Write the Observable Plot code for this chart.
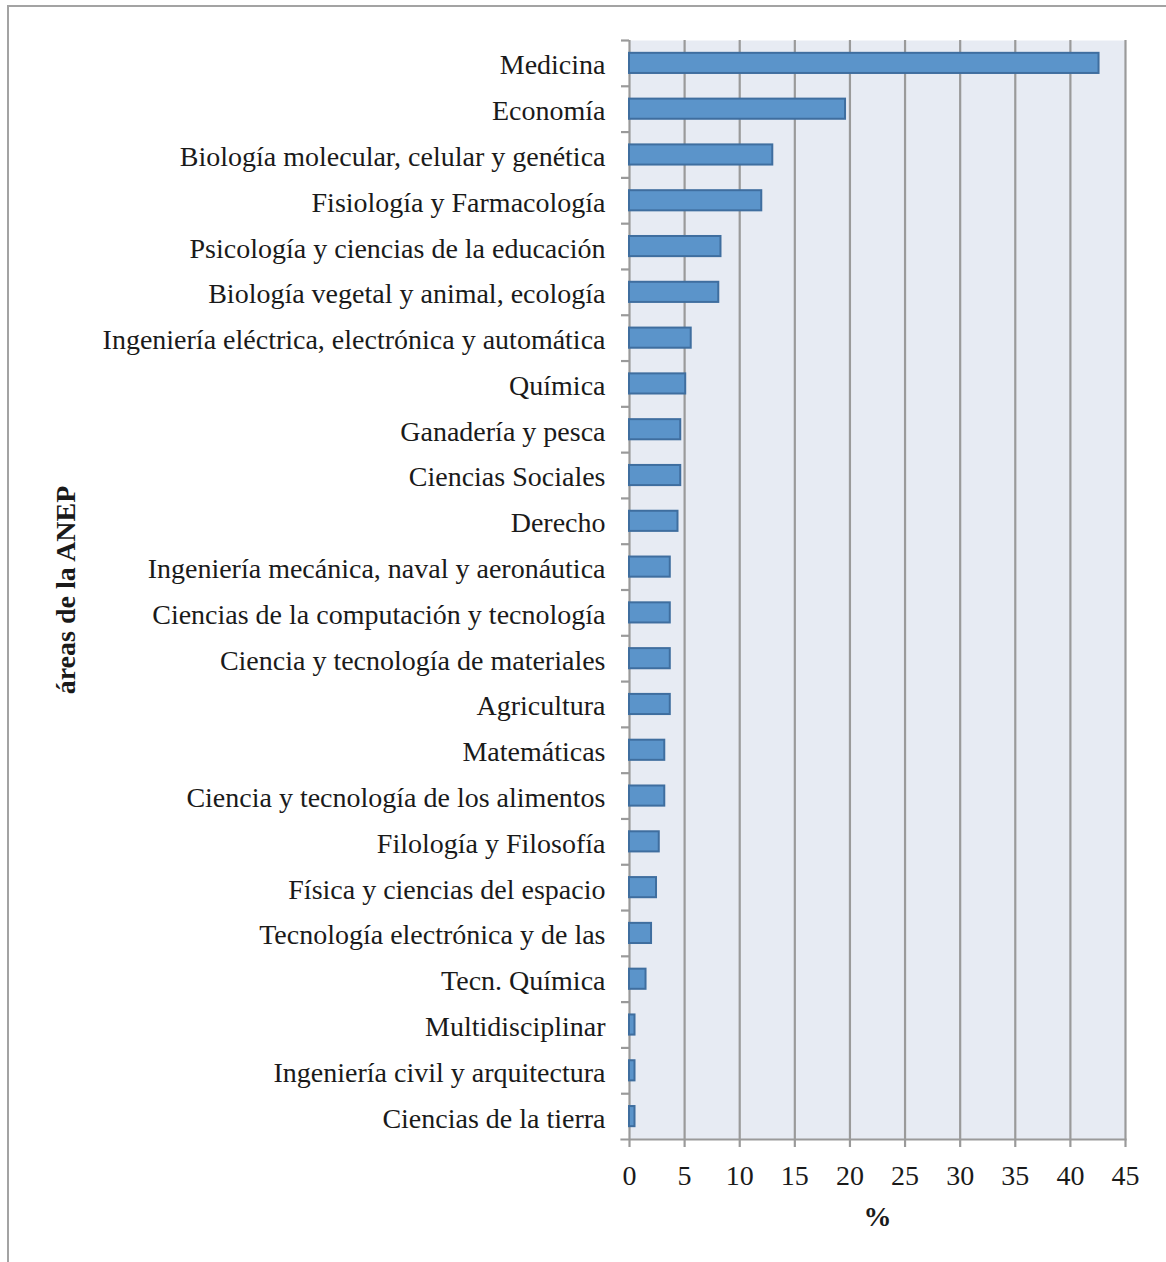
<!DOCTYPE html>
<html>
<head>
<meta charset="utf-8">
<script src="https://cdn.jsdelivr.net/npm/d3@7"></script>
<script src="https://cdn.jsdelivr.net/npm/@observablehq/plot@0.6"></script>
<style>
  html, body { margin: 0; padding: 0; background: #fff; overflow: hidden; width: 1166px; height: 1262px; }
  #frame { position: absolute; left: 7px; top: 5px; width: 1300px; height: 1400px; border: 2.5px solid #a3a3a3; box-sizing: border-box; }
  #chart { position: absolute; left: 0; top: 0; }
</style>
</head>
<body>
<div id="frame"></div>
<div id="chart"></div>
<script>
const categories = [
  "Medicina",
  "Economía",
  "Biología molecular, celular y genética",
  "Fisiología y Farmacología",
  "Psicología y ciencias de la educación",
  "Biología vegetal y animal, ecología",
  "Ingeniería eléctrica, electrónica y automática",
  "Química",
  "Ganadería y pesca",
  "Ciencias Sociales",
  "Derecho",
  "Ingeniería mecánica, naval y aeronáutica",
  "Ciencias de la computación y tecnología",
  "Ciencia y tecnología de materiales",
  "Agricultura",
  "Matemáticas",
  "Ciencia y tecnología de los alimentos",
  "Filología y Filosofía",
  "Física y ciencias del espacio",
  "Tecnología electrónica y de las",
  "Tecn. Química",
  "Multidisciplinar",
  "Ingeniería civil y arquitectura",
  "Ciencias de la tierra"
];
const values = [42.6, 19.6, 13.0, 12.0, 8.3, 8.1, 5.6, 5.1, 4.65, 4.65, 4.4, 3.7, 3.7, 3.7, 3.7, 3.2, 3.2, 2.7, 2.45, 2.0, 1.5, 0.5, 0.5, 0.5];
const xTicks = [0, 5, 10, 15, 20, 25, 30, 35, 40, 45];
const xLabel = "%";
const yLabel = "áreas de la ANEP";

const data = categories.map((c, i) => ({category: c, value: values[i]}));

const W = 1166, H = 1262;
const mTop = 40, mBottom = 123, mLeft = 629, mRight = 41;
const step = (H - mTop - mBottom) / categories.length;
const font = "'Liberation Serif', 'Times New Roman', serif";
const grid = "#9a9a9a";
const fs = 28;

const chart = Plot.plot({
  width: W,
  height: H,
  marginTop: mTop,
  marginBottom: mBottom,
  marginLeft: mLeft,
  marginRight: mRight,
  style: {fontFamily: font, fontSize: fs + "px", color: "#1a1a1a", background: "transparent"},
  x: {domain: [0, 45], ticks: xTicks},
  y: {domain: categories, paddingInner: 0.56, paddingOuter: 0.28, align: 0.5, round: false},
  marks: [
    Plot.frame({fill: "#e7ebf3", stroke: null}),
    Plot.ruleX(xTicks, {stroke: grid, strokeWidth: 2.2}),
    Plot.frame({anchor: "bottom", stroke: grid, strokeWidth: 2.2, insetLeft: -8}),
    Plot.barX(data, {y: "category", x: "value", fill: "#5b94ca", stroke: "#3f6e9f", strokeWidth: 2}),
    Plot.axisX({ticks: xTicks, tickSize: 8, tickPadding: 18, stroke: grid, strokeWidth: 2.2, label: null, fontSize: fs}),
    Plot.axisY({tickSize: 8, dy: -step / 2, text: null, stroke: grid, strokeWidth: 2.2, label: null}),
    Plot.axisY({tickSize: 0, tickPadding: 24, dy: 2, label: null, fontSize: fs}),
    Plot.text([xLabel], {frameAnchor: "bottom", dy: 86, fontWeight: "bold", fontSize: fs, text: d => d}),
    Plot.text([yLabel], {frameAnchor: "left", dx: -563, rotate: -90, textAnchor: "middle", fontWeight: "bold", fontSize: fs, text: d => d})
  ]
});
document.getElementById("chart").appendChild(chart);
</script>
</body>
</html>
